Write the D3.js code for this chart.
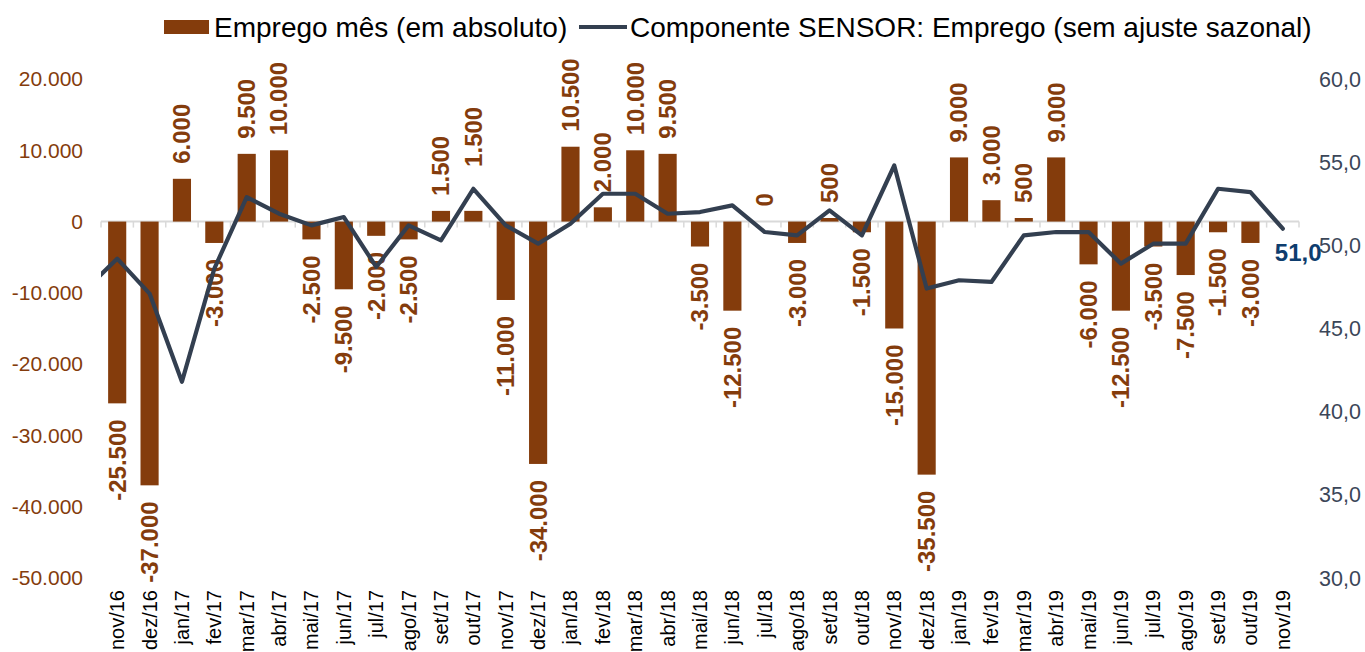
<!DOCTYPE html>
<html lang="pt">
<head>
<meta charset="UTF-8">
<title>Emprego mês x Componente SENSOR</title>
<style>
  body, html { margin: 0; padding: 0; background: #fff; }
  #chart { width: 1365px; height: 652px; }
  text { font-family: "Liberation Sans", Arial, sans-serif; }
</style>
<script src="https://d3js.org/d3.v7.min.js"></script>
</head>
<body>
<div id="chart"></div>
<script>
// categorias (meses)
const months = ["nov/16","dez/16","jan/17","fev/17","mar/17","abr/17","mai/17","jun/17","jul/17","ago/17",
  "set/17","out/17","nov/17","dez/17","jan/18","fev/18","mar/18","abr/18","mai/18","jun/18","jul/18",
  "ago/18","set/18","out/18","nov/18","dez/18","jan/19","fev/19","mar/19","abr/19","mai/19","jun/19",
  "jul/19","ago/19","set/19","out/19","nov/19"];

// Emprego mês (em absoluto) - nov/19 sem valor
const emprego = [-25500,-37000,6000,-3000,9500,10000,-2500,-9500,-2000,-2500,
  1500,1500,-11000,-34000,10500,2000,10000,9500,-3500,-12500,0,
  -3000,500,-1500,-15000,-35500,9000,3000,500,9000,-6000,-12500,
  -3500,-7500,-1500,-3000,null];

// Componente SENSOR: Emprego (sem ajuste sazonal)
const sensor = [49.2,47.1,41.8,48.6,52.9,51.9,51.2,51.7,48.7,51.2,
  50.3,53.4,51.2,50.1,51.3,53.1,53.1,51.9,52.0,52.4,50.8,
  50.6,52.1,50.6,54.8,47.4,47.9,47.8,50.6,50.8,50.8,48.9,
  50.1,50.1,53.4,53.2,51.0];
const sensorPrev = 47.3; // out/16, fora da área do gráfico

const leftTicks = [20000,10000,0,-10000,-20000,-30000,-40000,-50000];
const rightTicks = [60,55,50,45,40,35,30];

const W = 1365, H = 652;
const brown = "#843C0C", slate = "#333F50";

const loc = d3.formatLocale({decimal: ",", thousands: ".", grouping: [3], currency: ["R$", ""], minus: "-"});
const fmtInt = loc.format(",d");
const fmtOne = loc.format(",.1f");

const svg = d3.select("#chart").append("svg")
  .attr("width", W).attr("height", H);

const x = d3.scaleBand().domain(months).range([101, 1299]).paddingInner(0.44).paddingOuter(0.22);
const xStep = x.step();
const cx = m => x(m) + x.bandwidth() / 2;
const yL = d3.scaleLinear().domain([-50000, 20000]).range([578, 79]);
const yR = d3.scaleLinear().domain([30, 60]).range([578, 79]);

// eixo esquerdo
svg.append("g").selectAll("text").data(leftTicks).join("text")
  .attr("x", 83).attr("y", d => yL(d)).attr("dy", "0.35em")
  .attr("text-anchor", "end").attr("font-size", 21).attr("fill", brown)
  .text(d => fmtInt(d));

// eixo direito
svg.append("g").selectAll("text").data(rightTicks).join("text")
  .attr("x", 1319).attr("y", d => yR(d)).attr("dy", "0.35em")
  .attr("font-size", 21.5).attr("fill", "#3B4658")
  .text(d => fmtOne(d));

// linha do zero com marcas
const x0 = x.range()[0], x1 = x.range()[1];
svg.append("line").attr("x1", x0).attr("x2", x1)
  .attr("y1", yL(0)).attr("y2", yL(0))
  .attr("stroke", "#D9D9D9").attr("stroke-width", 2);
svg.append("g").selectAll("line").data(d3.range(months.length + 1)).join("line")
  .attr("x1", i => x0 + i * xStep).attr("x2", i => x0 + i * xStep)
  .attr("y1", yL(0)).attr("y2", yL(0) + 6)
  .attr("stroke", "#D9D9D9").attr("stroke-width", 1.5);

// barras
const barData = months.map((m, i) => ({m, v: emprego[i]})).filter(d => d.v !== null);
svg.append("g").selectAll("rect").data(barData).join("rect")
  .attr("x", d => x(d.m)).attr("width", x.bandwidth())
  .attr("y", d => yL(Math.max(0, d.v)))
  .attr("height", d => Math.abs(yL(d.v) - yL(0)))
  .attr("fill", brown);

// rótulos das barras (out/17 foi afastado da linha no original)
const labelShift = m => m === "out/17" ? -29 : 0;
svg.append("g").selectAll("text").data(barData).join("text")
  .attr("transform", d => `translate(${cx(d.m)},${(d.v >= 0 ? yL(d.v) - 15 : yL(d.v) + 16) + labelShift(d.m)}) rotate(-90)`)
  .attr("dy", "0.35em")
  .attr("text-anchor", d => d.v >= 0 ? "start" : "end")
  .attr("font-size", 24).attr("font-weight", "bold").attr("fill", brown)
  .text(d => fmtInt(d.v));

// linha SENSOR (com o mês anterior recortado)
svg.append("clipPath").attr("id", "plotClip").append("rect")
  .attr("x", x0).attr("y", 0).attr("width", x1 - x0 + 10).attr("height", H);
const linePts = [[cx(months[0]) - xStep, sensorPrev]].concat(months.map((m, i) => [cx(m), sensor[i]]));
svg.append("path").datum(linePts)
  .attr("clip-path", "url(#plotClip)")
  .attr("d", d3.line().x(d => d[0]).y(d => yR(d[1])))
  .attr("fill", "none").attr("stroke", slate).attr("stroke-width", 4.2)
  .attr("stroke-linejoin", "round").attr("stroke-linecap", "round");

// último valor
const last = sensor.length - 1;
svg.append("text")
  .attr("x", cx(months[last]) - 8).attr("y", yR(sensor[last]) + 24).attr("dy", "0.35em")
  .attr("font-size", 24).attr("font-weight", "bold").attr("fill", "#0E3D6E")
  .text(fmtOne(sensor[last]));

// rótulos do eixo x
svg.append("g").selectAll("text").data(months).join("text")
  .attr("transform", m => `translate(${cx(m)},590) rotate(-90)`)
  .attr("dy", "0.35em").attr("text-anchor", "end")
  .attr("font-size", 20).attr("fill", "#000")
  .text(m => m);

// legenda
const lg = svg.append("g");
lg.append("rect").attr("x", 164).attr("y", 20).attr("width", 45).attr("height", 14).attr("fill", brown);
lg.append("text").attr("x", 214).attr("y", 37).attr("font-size", 28).attr("fill", "#000")
  .text("Emprego mês (em absoluto)");
lg.append("line").attr("x1", 579).attr("x2", 627).attr("y1", 27).attr("y2", 27)
  .attr("stroke", slate).attr("stroke-width", 4);
lg.append("text").attr("x", 630).attr("y", 37).attr("font-size", 28).attr("fill", "#000")
  .text("Componente SENSOR: Emprego (sem ajuste sazonal)");
</script>
</body>
</html>
